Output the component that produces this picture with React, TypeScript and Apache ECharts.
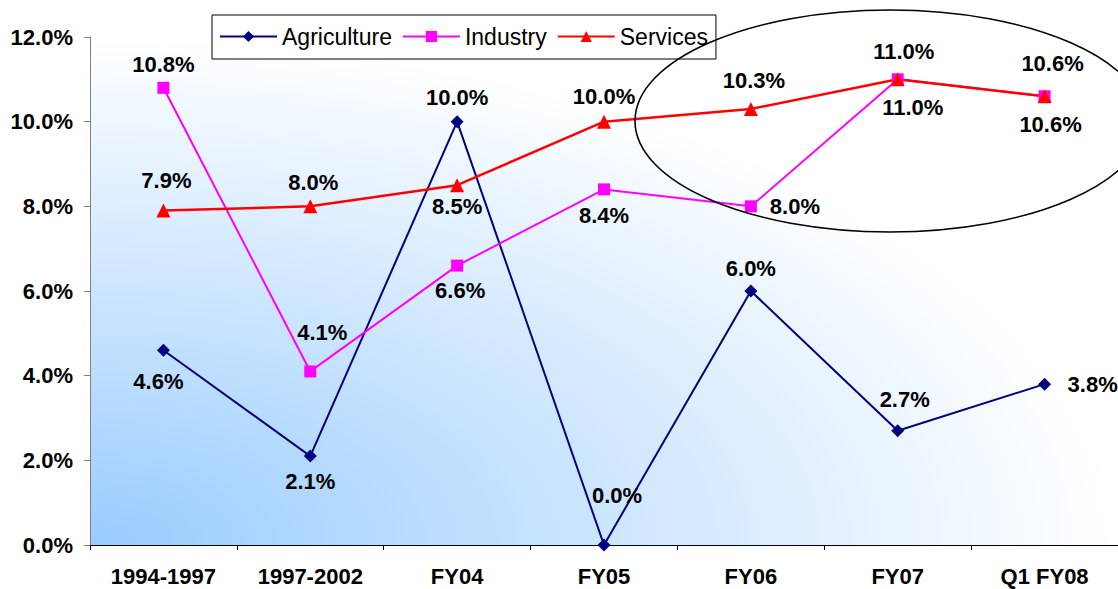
import React, { useEffect, useRef } from "react";
import * as echarts from "echarts";

const categories = ["1994-1997", "1997-2002", "FY04", "FY05", "FY06", "FY07", "Q1 FY08"];
const agriculture = [4.6, 2.1, 10.0, 0.0, 6.0, 2.7, 3.8];
const industry = [10.8, 4.1, 6.6, 8.4, 8.0, 11.0, 10.6];
const services = [7.9, 8.0, 8.5, 10.0, 10.3, 11.0, 10.6];
const yMin = 0;
const yMax = 12;
const yStep = 2;

// label placement (positions only, not data)
const agriLabelPos = ["bottom", "bottom", "top", "top", "top", "top", "right"];
const agriLabelDist = [13.5, 7.5, 6.5, 32.5, 5.5, 13.5, 16.5];
const agriLabelDx = [-5, 0, 0, 13, 0, 7, 0];

const indLabelPos = ["top", "top", "bottom", "bottom", "right", "bottom", "bottom"];
const indLabelDist = [6, 22, 8, 9, 13, 11, 11];
const indLabelDx = [0, 12, 3, 0, 0, 15, 6];

const servLabelPos = ["top", "top", "bottom", "top", "top", "top", "top"];
const servLabelDist = [12, 6, 3, 7, 10.5, 10, 15];
const servLabelDx = [3, 3, 0, 0, 3, 6, 8];

const FONT = 'Arial, "Liberation Sans", sans-serif';

const buildData = (values: number[], pos: string[], dist: number[], dx: number[]) =>
  values.map((v, i) => ({
    value: v,
    label: { position: pos[i], distance: dist[i], offset: [dx[i], 0] },
  }));

const labelStyle = {
  show: true,
  color: "#000",
  fontFamily: FONT,
  fontWeight: "bold" as const,
  fontSize: 22,
  formatter: (p: any) => Number(p.value).toFixed(1) + "%",
};

export default function App() {
  const ref = useRef<HTMLDivElement>(null);
  useEffect(() => {
    if (!ref.current) return;
    const chart = echarts.init(ref.current, null, { renderer: "svg" });
    chart.setOption({
      animation: false,
      backgroundColor: "#fff",
      grid: {
        left: 90,
        top: 37,
        width: 1031,
        height: 508,
        show: true,
        borderWidth: 0,
        backgroundColor: {
          type: "radial",
          x: 0,
          y: 1,
          r: 1,
          colorStops: [
            { offset: 0, color: "#99CCFF" },
            { offset: 1, color: "#FFFFFF" },
          ],
        },
      },
      legend: {
        left: 212,
        top: 15,
        padding: [10, 8, 11, 7],
        itemGap: 10,
        itemWidth: 57,
        itemHeight: 14,
        borderColor: "#000",
        borderWidth: 1,
        backgroundColor: "#fff",
        textStyle: { fontFamily: FONT, fontSize: 23, color: "#000" },
        data: ["Agriculture", "Industry", "Services"],
      },
      xAxis: {
        type: "category",
        data: categories,
        boundaryGap: true,
        axisLine: { lineStyle: { color: "#000", width: 1 } },
        axisTick: { show: true, length: 5, alignWithLabel: false, lineStyle: { color: "#000" } },
        axisLabel: {
          color: "#000",
          fontFamily: FONT,
          fontWeight: "bold",
          fontSize: 22,
          margin: 20,
          interval: 0,
        },
        splitLine: { show: false },
      },
      yAxis: {
        type: "value",
        min: yMin,
        max: yMax,
        interval: yStep,
        axisLine: { show: true, lineStyle: { color: "#808080", width: 1 } },
        axisTick: { show: true, length: 6, lineStyle: { color: "#808080" } },
        axisLabel: {
          color: "#000",
          fontFamily: FONT,
          fontWeight: "bold",
          fontSize: 22,
          margin: 17,
          formatter: (v: number) => v.toFixed(1) + "%",
        },
        splitLine: { show: false },
      },
      series: [
        {
          name: "Agriculture",
          type: "line",
          data: buildData(agriculture, agriLabelPos, agriLabelDist, agriLabelDx),
          symbol: "diamond",
          symbolSize: 13,
          itemStyle: { color: "#000080" },
          lineStyle: { color: "#000080", width: 2 },
          label: labelStyle,
          clip: false,
        },
        {
          name: "Industry",
          type: "line",
          data: buildData(industry, indLabelPos, indLabelDist, indLabelDx),
          symbol: "rect",
          symbolSize: 12,
          itemStyle: { color: "#FF00FF" },
          lineStyle: { color: "#FF00FF", width: 2 },
          label: labelStyle,
          clip: false,
        },
        {
          name: "Services",
          type: "line",
          data: buildData(services, servLabelPos, servLabelDist, servLabelDx),
          symbol: "triangle",
          symbolSize: 14,
          itemStyle: { color: "#FF0000" },
          lineStyle: { color: "#FF0000", width: 2.5 },
          label: labelStyle,
          clip: false,
        },
      ],
      graphic: [
        {
          type: "ellipse",
          z: 100,
          shape: { cx: 890, cy: 121, rx: 255, ry: 111 },
          style: { fill: "none", stroke: "#000", lineWidth: 1.6 },
          silent: true,
        },
      ],
    });
    return () => chart.dispose();
  }, []);
  return (
    <div
      ref={ref}
      style={{ position: "fixed", left: 0, top: 0, width: 1118, height: 589 }}
    />
  );
}
